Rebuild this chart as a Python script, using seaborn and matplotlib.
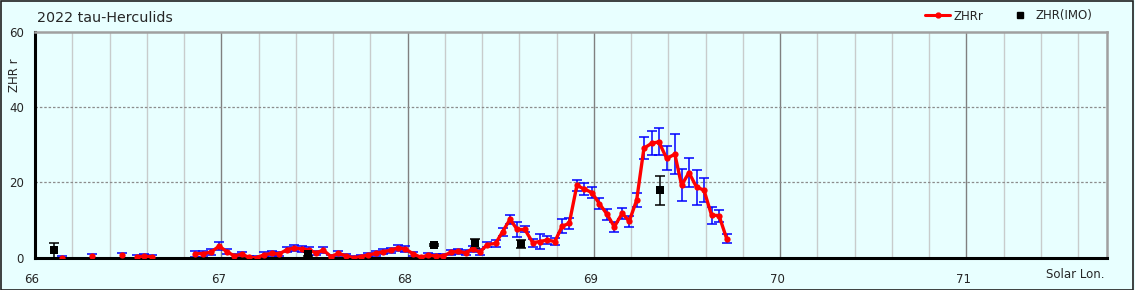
import numpy as np
import pandas as pd
import matplotlib
matplotlib.use("Agg")
import matplotlib.pyplot as plt
from matplotlib.lines import Line2D
import matplotlib.transforms as mtransforms
import seaborn as sns

# ---------------- data ----------------
title = "2022 tau-Herculids"
sol_lon = [66.143, 66.308, 66.469, 66.546, 66.587, 66.630, 66.860, 66.903, 66.946, 66.989,
           67.029, 67.070, 67.110, 67.150, 67.190, 67.231, 67.271, 67.311, 67.351, 67.390,
           67.432, 67.469, 67.508, 67.548, 67.589, 67.629, 67.669, 67.710, 67.750, 67.790,
           67.830, 67.870, 67.911, 67.950, 67.989, 68.031, 68.072, 68.111, 68.152, 68.192,
           68.231, 68.272, 68.312, 68.349, 68.389, 68.428, 68.473, 68.510, 68.550, 68.589,
           68.630, 68.672, 68.711, 68.750, 68.791, 68.830, 68.868, 68.909, 68.947, 68.990,
           69.029, 69.072, 69.110, 69.152, 69.190, 69.230, 69.269, 69.310, 69.349, 69.391,
           69.435, 69.471, 69.511, 69.552, 69.591, 69.632, 69.672, 69.713]
zhr_r = [0.0, 0.5, 0.6, 0.3, 0.35, 0.25, 1.1, 1.1, 1.5, 3.1,
         1.6, 0.5, 0.9, 0.1, 0.0, 0.8, 1.15, 1.0, 2.1, 2.6,
         2.3, 2.1, 1.3, 2.0, 0.3, 1.15, 0.5, 0.0, 0.3, 0.75,
         1.15, 1.6, 2.0, 2.65, 2.3, 1.0, 0.1, 0.7, 0.45, 0.45,
         1.4, 1.7, 1.3, 2.4, 1.5, 3.5, 3.8, 6.9, 10.2, 7.5,
         7.5, 4.0, 4.3, 4.7, 4.3, 8.4, 9.1, 19.2, 18.3, 17.3,
         14.4, 11.5, 8.2, 11.8, 9.7, 15.3, 29.1, 30.4, 30.8, 26.4,
         27.5, 19.3, 22.6, 18.7, 18.0, 11.3, 11.2, 5.1]
zhr_r_err = [0.5, 0.5, 0.6, 0.5, 0.6, 0.5, 0.8, 0.8, 0.9, 1.0,
             0.7, 0.6, 0.6, 0.4, 0.4, 0.6, 0.6, 0.6, 0.7, 0.8,
             0.7, 0.7, 0.6, 0.8, 0.5, 0.6, 0.5, 0.4, 0.5, 0.6,
             0.6, 0.7, 0.7, 0.8, 0.8, 0.6, 0.4, 0.6, 0.5, 0.5,
             0.6, 0.7, 0.7, 0.8, 0.7, 0.7, 0.9, 1.0, 1.2, 1.9,
             0.8, 1.1, 1.9, 1.0, 0.9, 1.8, 1.5, 1.5, 1.5, 1.5,
             1.5, 1.4, 1.4, 1.5, 1.5, 1.8, 2.9, 3.2, 3.6, 3.2,
             5.3, 4.3, 3.8, 4.7, 3.2, 2.3, 1.6, 1.2]
imo_lon = [66.104, 67.467, 68.142, 68.362, 68.607, 69.357]
imo_zhr = [2.0, 1.0, 3.4, 3.8, 3.6, 17.9]
imo_err = [2.0, 0.5, 0.3, 1.1, 1.1, 3.9]

x_ticks = [66, 67, 68, 69, 70, 71]
y_ticks = [0, 20, 40, 60]

# ---------------- figure ----------------
BG = "#E8FFFF"
sns.set_theme(style="white")
plt.rcParams["font.family"] = ["DejaVu Sans"]

fig = plt.figure(figsize=(11.35, 2.90), dpi=100, facecolor=BG)
ax = fig.add_axes([35 / 1135, 1 - 257.7 / 290, (1107 - 35) / 1135, (257.7 - 32) / 290])
ax.set_facecolor(BG)

df = pd.DataFrame({"lon": sol_lon, "zhr": zhr_r, "err": zhr_r_err})
df["seg"] = (df["lon"].diff() > 0.06).cumsum()

# grid
for v in np.arange(66.2, 71.75, 0.2):
    if abs(v - round(v)) > 1e-6:
        ax.axvline(v, color="#C8CCCC", lw=1.0, zorder=0)
for v in x_ticks[1:]:
    ax.axvline(v, color="#808080", lw=1.0, zorder=0)
for v in [20, 40]:
    ax.axhline(v, color="#8C8C8C", lw=0.9, ls=(0, (2, 1.5)), zorder=0)

# error bars
ax.errorbar(df["lon"], df["zhr"], yerr=df["err"], fmt="none", ecolor="#0000FF",
            elinewidth=1.1, capsize=3.5, capthick=1.1, zorder=2)
ax.errorbar(imo_lon, imo_zhr, yerr=imo_err, fmt="none", ecolor="black",
            elinewidth=1.1, capsize=3.5, capthick=1.1, zorder=2)

sns.lineplot(data=df, x="lon", y="zhr", units="seg", estimator=None, color="#FF0000",
             lw=2.4, marker="o", markersize=4.5, markeredgewidth=0, ax=ax, zorder=3,
             legend=False)
sns.scatterplot(x=imo_lon, y=imo_zhr, marker="s", color="black", s=30, linewidth=0,
                ax=ax, zorder=4, legend=False)

ax.set_xlim(66, 71.755)
ax.set_ylim(0, 60)
ax.set_xticks(x_ticks)
ax.set_yticks(y_ticks)
ax.set_xticklabels([str(t) for t in x_ticks], fontsize=8.5)
ax.set_yticklabels([str(t) for t in y_ticks], fontsize=8.5)
ax.tick_params(axis="x", direction="in", length=3, width=1.2, color="black", pad=11)
ax.tick_params(axis="y", direction="in", length=3, width=1.2, color="black", pad=8)
shift = mtransforms.ScaledTranslation(-3 / 100, 0, fig.dpi_scale_trans)
for lab in ax.get_xticklabels():
    lab.set_horizontalalignment("center")
    lab.set_transform(lab.get_transform() + shift)
ax.set_xlabel("")
ax.set_ylabel("")

for side in ["left", "bottom"]:
    ax.spines[side].set_color("black")
    ax.spines[side].set_linewidth(2.2)
for side in ["top", "right"]:
    ax.spines[side].set_color("#A0A0A0")
    ax.spines[side].set_linewidth(1.8)

fig.text(37 / 1135, 1 - 18 / 290, title, fontsize=10.3, va="center", ha="left")
fig.text(1075 / 1135, 1 - 275 / 290, "Solar Lon.", fontsize=8.5, va="center", ha="center")
fig.text(15 / 1135, 1 - 75 / 290, "ZHR r", fontsize=8.5, va="center", ha="center", rotation=90)

handles = [Line2D([0], [0], color="#FF0000", lw=2.2, marker="o", markersize=3.5),
           Line2D([0], [0], color="none", marker="s", markerfacecolor="black",
                  markeredgecolor="black", markersize=4)]
fig.legend(handles, ["ZHRr", "ZHR(IMO)"], loc="center right",
           bbox_to_anchor=(1103 / 1135, 1 - 16 / 290), ncol=2, frameon=False,
           fontsize=8.5, handlelength=2.1, columnspacing=2.0, handletextpad=0.3)

# figure border
fig.patches.append(plt.Rectangle((0.0005, 0.0015), 0.998, 0.996, transform=fig.transFigure,
                                 fill=False, edgecolor="#202020", lw=1.2))

fig.savefig("out.png", dpi=100, facecolor=BG)
